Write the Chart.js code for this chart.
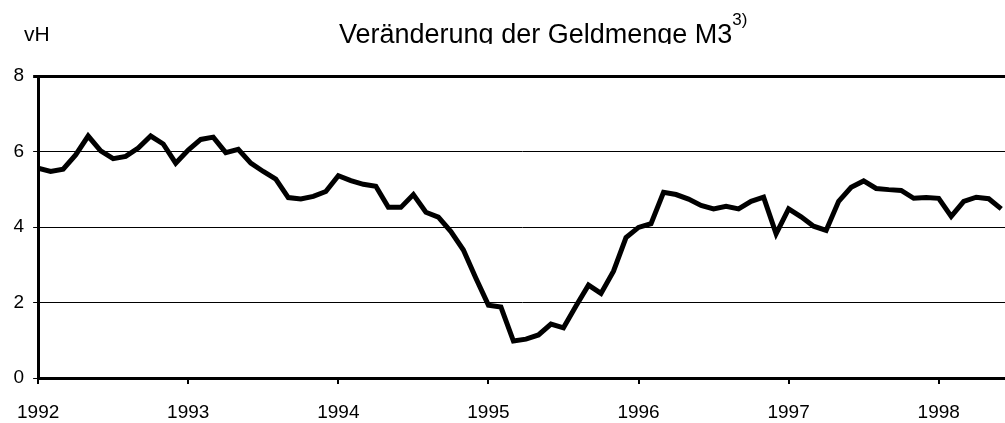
<!DOCTYPE html>
<html>
<head>
<meta charset="utf-8">
<script src="https://cdn.jsdelivr.net/npm/chart.js@4/dist/chart.umd.min.js"></script>
<style>
  html, body { margin: 0; padding: 0; background: #fff; }
  #wrap { width: 1005px; height: 423px; position: relative; }
</style>
</head>
<body>
<div id="wrap"><canvas id="c" width="1005" height="423"></canvas></div>
<script>
// ---- data ----
const chartTitle = 'Veränderung der Geldmenge M3';
const titleNote = '3)';
const unitLabel = 'vH';
const yearLabels = ['1992', '1993', '1994', '1995', '1996', '1997', '1998'];
const monthsPerYear = 12;
// monthly values, Jan 1992 .. Jun 1998
const m3Growth = [
  5.56, 5.47, 5.53, 5.91, 6.41, 6.02, 5.81, 5.87, 6.09, 6.41, 6.20, 5.69,
  6.04, 6.32, 6.38, 5.97, 6.06, 5.69, 5.47, 5.27, 4.78, 4.74, 4.81, 4.94,
  5.36, 5.23, 5.13, 5.08, 4.52, 4.52, 4.86, 4.39, 4.26, 3.88, 3.39, 2.64,
  1.93, 1.88, 0.98, 1.03, 1.14, 1.43, 1.33, 1.91, 2.46, 2.24, 2.83, 3.72,
  3.99, 4.09, 4.92, 4.86, 4.74, 4.57, 4.48, 4.55, 4.48, 4.68, 4.79, 3.82,
  4.48, 4.27, 4.02, 3.91, 4.68, 5.05, 5.22, 5.02, 4.99, 4.97, 4.76, 4.78,
  4.76, 4.28, 4.68, 4.79, 4.75, 4.48
];
const yTicks = [0, 2, 4, 6, 8];

const points = m3Growth.map((v, i) => ({ x: i, y: v }));
const FONT = '"Liberation Sans", Arial, Helvetica, sans-serif';

const titlePlugin = {
  id: 'titles',
  afterDraw(chart) {
    const ctx = chart.ctx;
    ctx.save();
    ctx.fillStyle = '#000';
    ctx.textBaseline = 'alphabetic';
    ctx.textAlign = 'left';
    ctx.font = '21px ' + FONT;
    ctx.fillText(unitLabel, 24, 41);
    ctx.beginPath();
    ctx.rect(0, 0, chart.width, 44);
    ctx.clip();
    ctx.font = '27px ' + FONT;
    ctx.fillText(chartTitle, 339, 42.5);
    const w = ctx.measureText(chartTitle).width;
    ctx.font = '17px ' + FONT;
    ctx.fillText(titleNote, 339 + w, 25);
    ctx.restore();
  }
};

new Chart(document.getElementById('c'), {
  type: 'line',
  data: {
    datasets: [{
      data: points,
      borderColor: '#000',
      borderWidth: 5,
      pointRadius: 0,
      tension: 0,
      fill: false,
      borderJoinStyle: 'miter',
      borderCapStyle: 'butt'
    }]
  },
  options: {
    responsive: false,
    animation: false,
    events: [],
    layout: { padding: { top: 76, right: 0, left: 0, bottom: 0 } },
    plugins: { legend: { display: false }, title: { display: false }, tooltip: { enabled: false } },
    scales: {
      x: {
        type: 'linear',
        min: 0,
        max: 77.3,
        afterFit(s) { s.height = 45; },
        afterBuildTicks(s) {
          s.ticks = yearLabels.map((_, i) => ({ value: i * monthsPerYear }));
        },
        ticks: {
          autoSkip: false,
          maxRotation: 0,
          padding: 17,
          color: '#000',
          font: { family: FONT, size: 19 },
          callback: (v) => yearLabels[Math.round(v / monthsPerYear)]
        },
        grid: {
          drawOnChartArea: false,
          drawTicks: true,
          tickLength: 6,
          color: '#000',
          lineWidth: 2
        },
        border: { display: true, color: '#000', width: 3 }
      },
      y: {
        min: 0,
        max: 8,
        afterFit(s) { s.width = 33; },
        afterBuildTicks(s) {
          s.ticks = yTicks.map(v => ({ value: v }));
        },
        ticks: {
          padding: 9,
          color: '#000',
          font: { family: FONT, size: 19 }
        },
        grid: {
          drawOnChartArea: true,
          drawTicks: true,
          tickLength: 5,
          color: '#000',
          lineWidth: (c) => (c.tick && c.tick.value === 8 ? 3 : 1)
        },
        border: { display: true, color: '#000', width: 3 }
      }
    }
  },
  plugins: [titlePlugin]
});
</script>
</body>
</html>
